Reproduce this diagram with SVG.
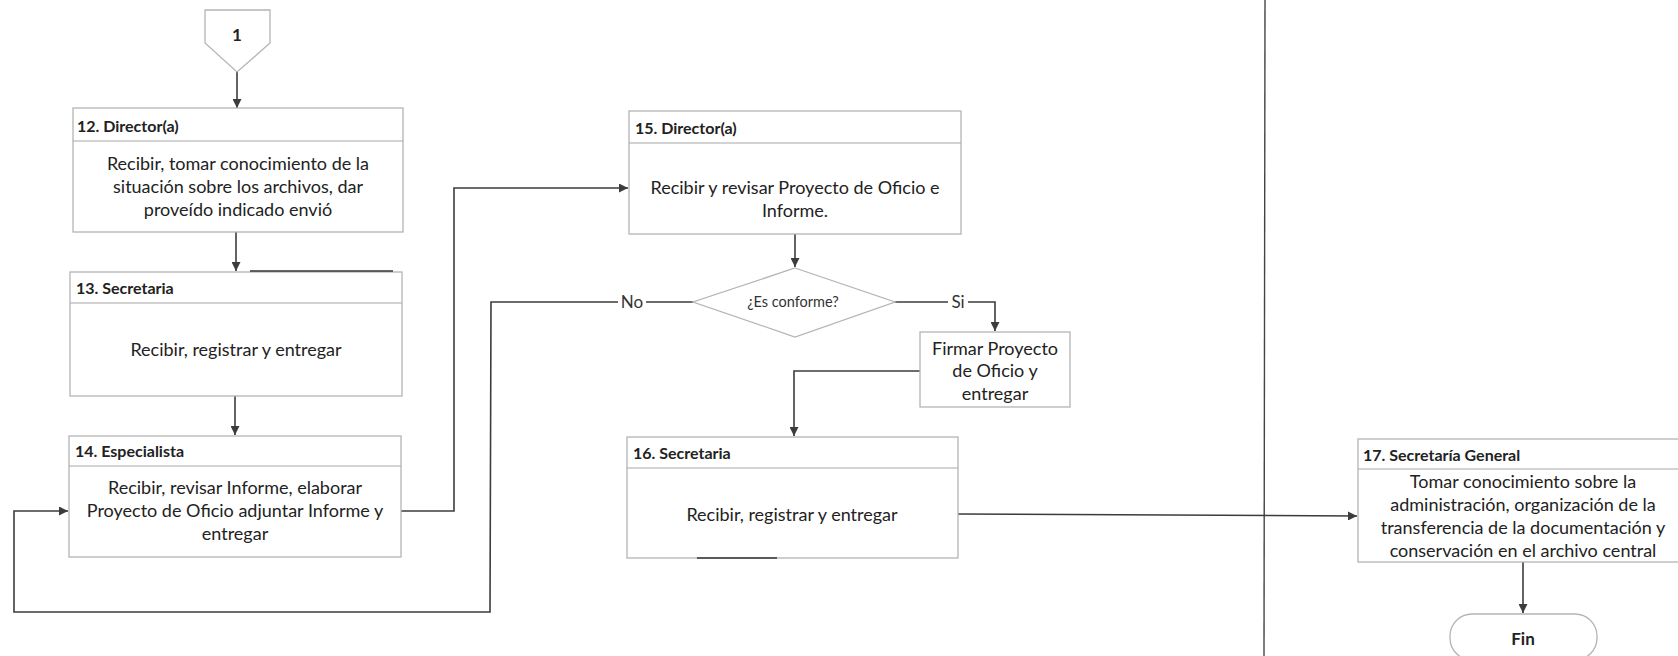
<svg xmlns="http://www.w3.org/2000/svg" width="1678" height="656" viewBox="0 0 1678 656">
  <defs>
    <marker id="arrow" viewBox="0 0 10 10" refX="10" refY="5" markerWidth="9" markerHeight="9" markerUnits="userSpaceOnUse" orient="auto">
      <path d="M0,0 L10,5 L0,10 Z" fill="#3c3c3c"/>
    </marker>
    <style>
      .box { fill: #ffffff; stroke: #b4b4b4; stroke-width: 1.3; }
      .div { stroke: #a8a8a8; stroke-width: 1.2; }
      .conn { fill: none; stroke: #3c3c3c; stroke-width: 1.6; }
      .lane { fill: none; stroke: #444444; stroke-width: 1.4; }
      .hdr { font-family: Lato, "Liberation Sans", sans-serif; font-weight: bold; font-size: 16px; fill: #222222; }
      .body { font-family: Lato, "Liberation Sans", sans-serif; font-size: 18px; fill: #222222; text-anchor: middle; }
      .lbl { font-family: Lato, "Liberation Sans", sans-serif; font-size: 17px; fill: #333333; text-anchor: middle; }
      .small { font-family: Lato, "Liberation Sans", sans-serif; font-size: 14.5px; fill: #333333; text-anchor: middle; }
      .bold { font-family: Lato, "Liberation Sans", sans-serif; font-weight: bold; font-size: 17px; fill: #222222; text-anchor: middle; }
    </style>
  </defs>

  <rect width="1678" height="656" fill="#ffffff"/>

  <!-- lane separator -->
  <line class="lane" x1="1265" y1="0" x2="1264" y2="656"/>

  <!-- connectors -->
  <g id="connectors">
    <line class="conn" x1="237" y1="72" x2="237" y2="108" marker-end="url(#arrow)"/>
    <line class="conn" x1="236" y1="232" x2="236" y2="271" marker-end="url(#arrow)"/>
    <line class="conn" x1="235" y1="396" x2="235" y2="435" marker-end="url(#arrow)"/>
    <polyline class="conn" points="401,511 454,511 454,188 628,188" marker-end="url(#arrow)"/>
    <line class="conn" x1="795" y1="234" x2="795" y2="267" marker-end="url(#arrow)"/>
    <polyline class="conn" points="693,302 491,302 490,612 14,612 14,511 68,511" marker-end="url(#arrow)"/>
    <polyline class="conn" points="895,302 995,302 995,331" marker-end="url(#arrow)"/>
    <polyline class="conn" points="920,371 794,371 794,436" marker-end="url(#arrow)"/>
    <line class="conn" x1="958" y1="514" x2="1357" y2="516" marker-end="url(#arrow)"/>
    <line class="conn" x1="1523" y1="562" x2="1523" y2="613" marker-end="url(#arrow)"/>
    <!-- branch labels -->
    <rect x="618" y="292" width="28" height="20" fill="#ffffff"/>
    <text class="lbl" x="632" y="308">No</text>
    <rect x="948" y="292" width="20" height="20" fill="#ffffff"/>
    <text class="lbl" x="958" y="308">Si</text>
  </g>

  <!-- off-page connector -->
  <g id="n-start">
    <path class="box" d="M205,10 L270,10 L270,43 L237,72 L205,43 Z"/>
    <text class="bold" x="237" y="41">1</text>
  </g>

  <g id="n12">
    <rect class="box" x="73" y="108" width="330" height="124"/>
    <line class="div" x1="73" y1="141" x2="403" y2="141"/>
    <text class="hdr" x="77" y="132">12. Director(a)</text>
    <text class="body" x="238" y="170">Recibir, tomar conocimiento de la</text>
    <text class="body" x="238" y="193">situación sobre los archivos, dar</text>
    <text class="body" x="238" y="216">proveído indicado envió</text>
  </g>

  <g id="n13">
    <rect class="box" x="70" y="272" width="332" height="124"/>
    <line class="div" x1="70" y1="303" x2="402" y2="303"/>
    <line x1="250" y1="271" x2="393" y2="271" stroke="#333333" stroke-width="1.5"/>
    <text class="hdr" x="76" y="294">13. Secretaria</text>
    <text class="body" x="236" y="356">Recibir, registrar y entregar</text>
  </g>

  <g id="n14">
    <rect class="box" x="69" y="436" width="332" height="121"/>
    <line class="div" x1="69" y1="466" x2="401" y2="466"/>
    <text class="hdr" x="75" y="457">14. Especialista</text>
    <text class="body" x="235" y="494">Recibir, revisar Informe, elaborar</text>
    <text class="body" x="235" y="517">Proyecto de Oficio adjuntar Informe y</text>
    <text class="body" x="235" y="540">entregar</text>
  </g>

  <g id="n15">
    <rect class="box" x="629" y="111" width="332" height="123"/>
    <line class="div" x1="629" y1="143" x2="961" y2="143"/>
    <text class="hdr" x="635" y="134">15. Director(a)</text>
    <text class="body" x="795" y="194">Recibir y revisar Proyecto de Oficio e</text>
    <text class="body" x="795" y="217">Informe.</text>
  </g>

  <g id="decision">
    <path class="box" d="M795,268 L895,302 L795,337 L693,302 Z"/>
    <text class="small" x="793" y="307">¿Es conforme?</text>
  </g>

  <g id="n-firmar">
    <rect class="box" x="920" y="332" width="150" height="75"/>
    <text class="body" x="995" y="355">Firmar Proyecto</text>
    <text class="body" x="995" y="377">de Oficio y</text>
    <text class="body" x="995" y="400">entregar</text>
  </g>

  <g id="n16">
    <rect class="box" x="627" y="437" width="331" height="121"/>
    <line class="div" x1="627" y1="468" x2="958" y2="468"/>
    <line x1="697" y1="558" x2="777" y2="558" stroke="#333333" stroke-width="1.5"/>
    <text class="hdr" x="633" y="459">16. Secretaria</text>
    <text class="body" x="792" y="521">Recibir, registrar y entregar</text>
  </g>

  <g id="n17">
    <rect class="box" x="1358" y="439" width="330" height="123"/>
    <line class="div" x1="1358" y1="469" x2="1678" y2="469"/>
    <text class="hdr" x="1363" y="461">17. Secretaría General</text>
    <text class="body" x="1523" y="488">Tomar conocimiento sobre la</text>
    <text class="body" x="1523" y="511">administración, organización de la</text>
    <text class="body" x="1523" y="534">transferencia de la documentación y</text>
    <text class="body" x="1523" y="557">conservación en el archivo central</text>
  </g>

  <g id="n-fin">
    <rect class="box" x="1450" y="614" width="147" height="46" rx="22" ry="22"/>
    <text class="bold" x="1523" y="645">Fin</text>
  </g>
</svg>
